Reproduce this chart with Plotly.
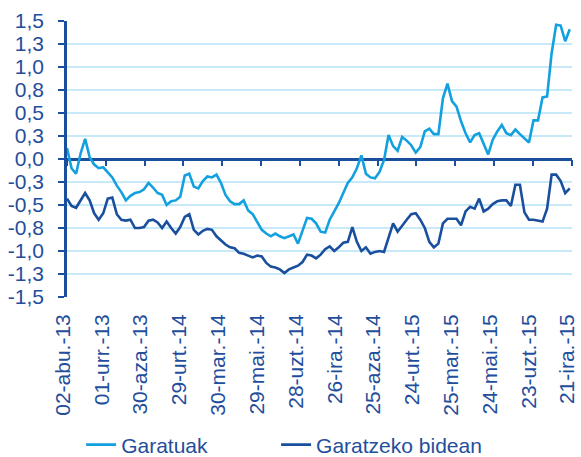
import pandas as pd
import plotly.graph_objects as go

start_date = "2013-08-02"
n_weeks = 112

garatuak = [
    0.12, -0.10, -0.16, 0.06, 0.22, 0.02, -0.06, -0.10, -0.09, -0.14,
    -0.20, -0.29, -0.36, -0.45, -0.40, -0.37, -0.36, -0.33, -0.26, -0.31,
    -0.37, -0.39, -0.50, -0.46, -0.45, -0.41, -0.18, -0.16, -0.30, -0.32,
    -0.24, -0.19, -0.20, -0.17, -0.26, -0.39, -0.46, -0.49, -0.49, -0.45,
    -0.56, -0.60, -0.68, -0.77, -0.81, -0.84, -0.81, -0.84, -0.86, -0.84,
    -0.82, -0.92, -0.79, -0.64, -0.65, -0.70, -0.79, -0.80, -0.66, -0.57,
    -0.48, -0.37, -0.26, -0.20, -0.10, 0.04, -0.16, -0.20, -0.21, -0.14,
    -0.01, 0.26, 0.14, 0.09, 0.24, 0.20, 0.15, 0.07, 0.13, 0.30,
    0.33, 0.27, 0.27, 0.66, 0.82, 0.63, 0.57, 0.41, 0.28, 0.18,
    0.26, 0.28, 0.17, 0.05, 0.21, 0.30, 0.37, 0.28, 0.26, 0.32,
    0.27, 0.22, 0.18, 0.42, 0.42, 0.67, 0.68, 1.15, 1.46, 1.45,
    1.28, 1.41,
]

garatzeko_bidean = [
    -0.43, -0.51, -0.53, -0.45, -0.37, -0.45, -0.59, -0.66, -0.59, -0.43,
    -0.42, -0.60, -0.66, -0.67, -0.66, -0.75, -0.75, -0.74, -0.67, -0.66,
    -0.69, -0.75, -0.68, -0.75, -0.81, -0.74, -0.63, -0.60, -0.77, -0.82,
    -0.78, -0.76, -0.77, -0.84, -0.89, -0.93, -0.96, -0.97, -1.02, -1.03,
    -1.05, -1.07, -1.05, -1.06, -1.13, -1.17, -1.18, -1.20, -1.24, -1.20,
    -1.18, -1.16, -1.12, -1.04, -1.05, -1.08, -1.04, -0.98, -0.95, -1.00,
    -0.96, -0.91, -0.90, -0.74, -0.90, -1.00, -0.96, -1.03, -1.01, -1.00,
    -1.01, -0.86, -0.70, -0.79, -0.72, -0.66, -0.60, -0.59, -0.66, -0.75,
    -0.90, -0.96, -0.92, -0.70, -0.65, -0.65, -0.65, -0.72, -0.57, -0.52,
    -0.54, -0.43, -0.57, -0.54, -0.49, -0.46, -0.45, -0.45, -0.51, -0.28,
    -0.28, -0.58, -0.66, -0.66, -0.67, -0.68, -0.54, -0.17, -0.17, -0.24,
    -0.37, -0.32,
]

x_tick_dates = [
    "2013-08-02", "2013-10-01", "2013-11-30", "2014-01-29", "2014-03-30",
    "2014-05-29", "2014-07-28", "2014-09-26", "2014-11-25", "2015-01-24",
    "2015-03-25", "2015-05-24", "2015-07-23", "2015-09-21",
]
x_tick_labels = [
    "02-abu.-13", "01-urr.-13", "30-aza.-13", "29-urt.-14", "30-mar.-14",
    "29-mai.-14", "28-uzt.-14", "26-ira.-14", "25-aza.-14", "24-urt.-15",
    "25-mar.-15", "24-mai.-15", "23-uzt.-15", "21-ira.-15",
]
y_tick_vals = [1.5, 1.25, 1.0, 0.75, 0.5, 0.25, 0.0, -0.25, -0.5, -0.75, -1.0, -1.25, -1.5]
y_tick_labels = ["1,5", "1,3", "1,0", "0,8", "0,5", "0,3", "0,0",
                 "-0,3", "-0,5", "-0,8", "-1,0", "-1,3", "-1,5"]

series_names = ["Garatuak", "Garatzeko bidean"]

dates = pd.date_range(start_date, periods=n_weeks, freq="7D")

LIGHT = "#12a0de"
DARK = "#1a4f9e"
TEXT = "#1f4e9c"
GRID = "#c8eaf8"
FONT = "Liberation Sans, Arial, sans-serif"
x_range = [x_tick_dates[0], "2015-09-21 12:00"]

fig = go.Figure()
fig.add_trace(go.Scatter(x=dates, y=garatuak, mode="lines", name=series_names[0],
                         line=dict(color=LIGHT, width=2.6), legend="legend"))
fig.add_trace(go.Scatter(x=dates, y=garatzeko_bidean, mode="lines", name=series_names[1],
                         line=dict(color=DARK, width=2.6), legend="legend2"))

legend_common = dict(orientation="h", xanchor="left", y=-0.536, yanchor="middle",
                     font=dict(size=21, color=TEXT, family=FONT),
                     bgcolor="rgba(0,0,0,0)")

fig.update_layout(
    width=581, height=457,
    margin=dict(l=67, r=9, t=21, b=160, autoexpand=False),
    paper_bgcolor="white", plot_bgcolor="white",
    font=dict(family=FONT, size=21, color=TEXT),
    showlegend=True,
    legend=dict(x=0.028, **legend_common),
    legend2=dict(x=0.414, **legend_common),
    xaxis=dict(
        type="date", range=x_range, tickmode="array",
        tickvals=x_tick_dates, ticktext=x_tick_labels, tickangle=-90,
        showgrid=False, zeroline=False, showline=False, ticks="",
        ticklabelstandoff=12, ticklabeloverflow="allow", automargin=False,
        ticklabelshift=-4,
        tickfont=dict(size=21, color=TEXT, family=FONT),
    ),
    xaxis2=dict(
        type="date", range=x_range, overlaying="x", anchor="free", position=0.5,
        side="bottom", tickmode="array", tickvals=x_tick_dates,
        showticklabels=False, showgrid=False, zeroline=False, automargin=False,
        showline=False, ticks="outside", ticklen=6, tickwidth=2, tickcolor=DARK,
    ),
    yaxis=dict(
        range=[-1.5, 1.5], tickmode="array", tickvals=y_tick_vals, ticktext=y_tick_labels,
        showgrid=True, gridcolor=GRID, gridwidth=1.5,
        zeroline=True, zerolinecolor=DARK, zerolinewidth=2.5,
        showline=True, linecolor=DARK, linewidth=2.5,
        ticks="outside", ticklen=6, tickwidth=2, tickcolor=DARK,
        ticklabelstandoff=10, automargin=False,
        tickfont=dict(size=21, color=TEXT, family=FONT),
    ),
)
# invisible point on the overlay axis so its tick marks are drawn on the zero line
fig.add_trace(go.Scatter(x=[x_range[0]], y=[0], xaxis="x2", mode="markers",
                         marker=dict(opacity=0), showlegend=False, hoverinfo="skip"))

fig.write_html("out.html", config={"displayModeBar": False},
               post_script="document.body.style.margin='0px';document.body.style.overflow='hidden';")
